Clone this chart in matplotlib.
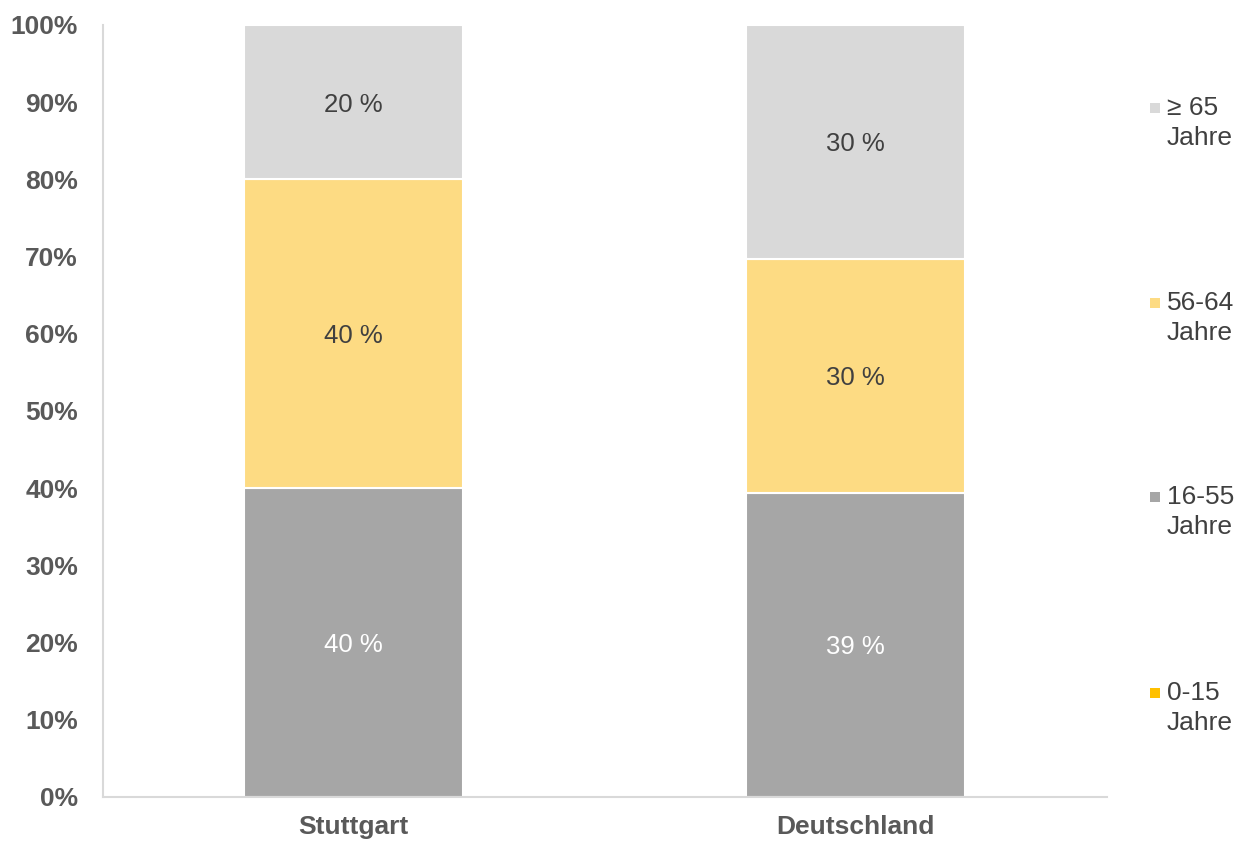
import matplotlib
matplotlib.use("Agg")
import matplotlib.pyplot as plt
from matplotlib.patches import Rectangle
import numpy as np

plt.rcParams['font.family'] = ['Liberation Sans', 'DejaVu Sans']

# Age structure (shares in %), stacked to 100 %
regions = ["Stuttgart", "Deutschland"]
groups = ["0-15\nJahre", "16-55\nJahre", "56-64\nJahre", "≥ 65\nJahre"]
age_0_15 = [0, 0]
age_16_55 = [40, 39]
age_56_64 = [40, 30]
age_65_plus = [20, 30]

series = [age_0_15, age_16_55, age_56_64, age_65_plus]
colors = ["#FFC000", "#A6A6A6", "#FDDB83", "#D9D9D9"]
label_colors = [None, "white", "#404040", "#404040"]

fig = plt.figure(figsize=(12.39, 8.43), dpi=100)
ax = fig.add_axes([103 / 1239, 1 - 797 / 843, 1004 / 1239, 772 / 843])

x = np.arange(len(regions))
values = np.array(series, dtype=float)
totals = values.sum(axis=0)
shares = values / totals * 100
bottom = np.zeros(len(regions))
for raw, share, col, lcol in zip(values, shares, colors, label_colors):
    ax.bar(x, share, bottom=bottom, width=0.436, color=col,
           edgecolor="white", linewidth=1.5)
    if lcol is not None:
        for xi, r, s, b in zip(x, raw, share, bottom):
            if r > 0:
                ax.text(xi, b + s / 2 - 0.3, f"{r:.0f} %", ha="center", va="center",
                        color=lcol, fontsize=18.5)
    bottom += share

ax.set_xlim(-0.499, 1.501)
ax.set_ylim(0, 100)
ax.set_yticks(np.arange(0, 101, 10))
ax.set_yticklabels([f"{v}%" for v in range(0, 101, 10)])
ax.set_xticks(x)
ax.set_xticklabels(regions)
ax.tick_params(length=0, labelsize=19, labelcolor="#595959")
ax.tick_params(axis="y", pad=18)
ax.tick_params(axis="x", pad=13)
for lbl in ax.get_xticklabels() + ax.get_yticklabels():
    lbl.set_fontweight("bold")
for side in ["top", "right"]:
    ax.spines[side].set_visible(False)
for side in ["left", "bottom"]:
    ax.spines[side].set_color("#D9D9D9")
    ax.spines[side].set_linewidth(1.5)

# Legend, top entry first
legend_y = [108, 303, 497, 693]
for gi, yy in zip(range(len(groups) - 1, -1, -1), legend_y):
    fig.add_artist(Rectangle((1150 / 1239, 1 - (yy + 5) / 843), 10 / 1239, 10 / 843,
                             transform=fig.transFigure, color=colors[gi], lw=0))
    fig.text(1167 / 1239, 1 - (yy - 12) / 843, groups[gi], ha="left", va="top",
             fontsize=19, color="#404040", linespacing=1.3)

fig.savefig("out.png", dpi=100)
